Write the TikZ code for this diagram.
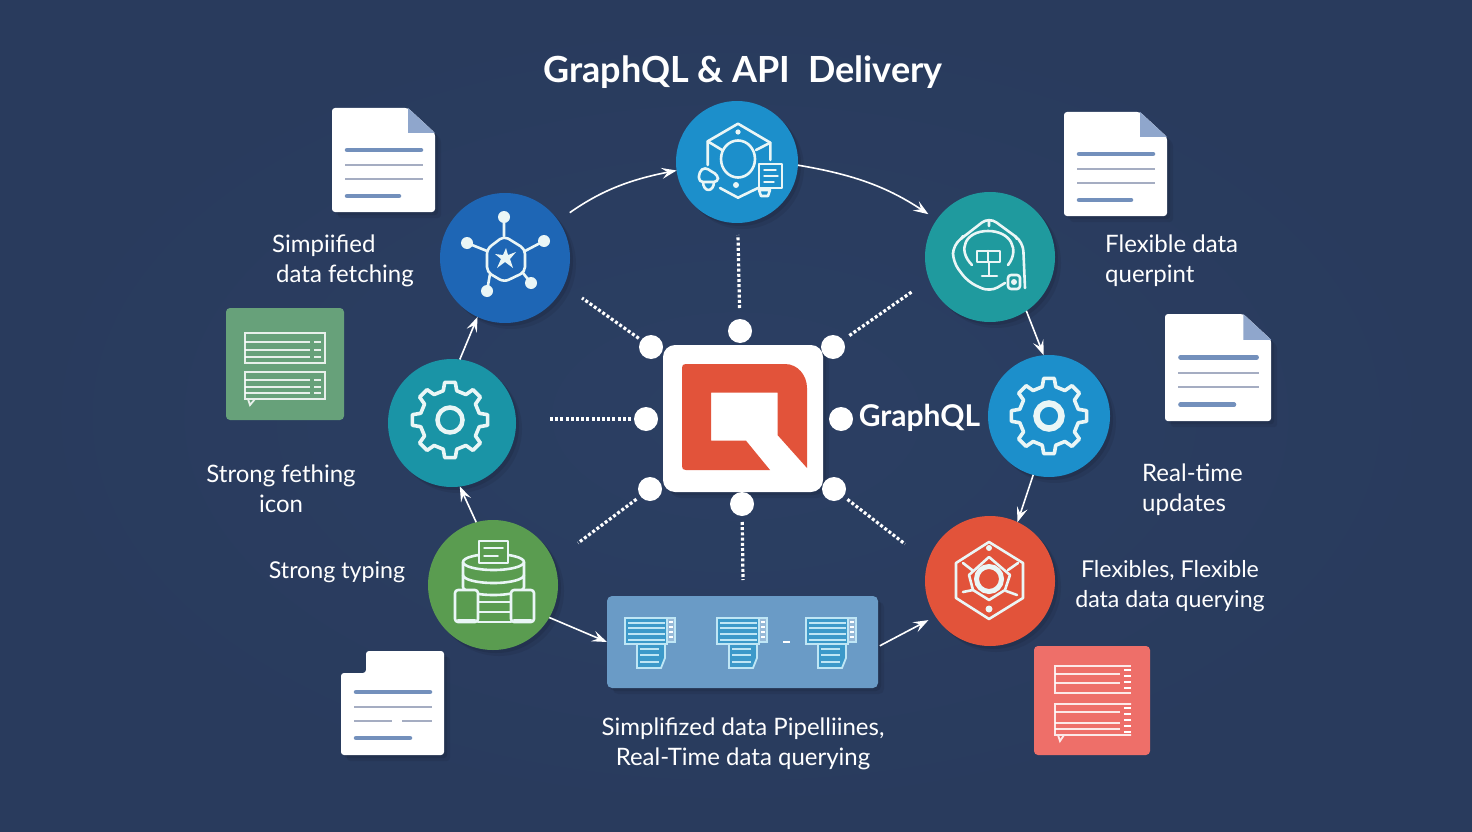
\documentclass[tikz,border=0pt]{standalone}
\usepackage{fontspec}
\setmainfont{Lato}
\usetikzlibrary{arrows.meta,shadows}

\definecolor{bgnavy}{HTML}{2B3F63}
\definecolor{bgnavydark}{HTML}{293B5D}
\definecolor{hubred}{HTML}{E2533A}
\definecolor{topblue}{HTML}{1C8FCB}
\definecolor{fetchblue}{HTML}{1E66B5}
\definecolor{queryteal}{HTML}{1F9A9E}
\definecolor{gearteal}{HTML}{1A94A6}
\definecolor{typegreen}{HTML}{5A9C50}
\definecolor{pipeblue}{HTML}{6A9BC6}
\definecolor{cardgreen}{HTML}{67A17A}
\definecolor{cardred}{HTML}{EE6F69}
\definecolor{foldblue}{HTML}{8FA6CC}
\definecolor{lineblue}{HTML}{7390BC}
\definecolor{linegrey}{HTML}{A5ADC2}
\definecolor{sheetblue}{HTML}{3C99C9}
\definecolor{sheetedge}{HTML}{BFE6F5}
\definecolor{iconwhite}{HTML}{EAF6F6}

\tikzset{
    softshadow/.style={
        drop shadow={shadow xshift=6pt, shadow yshift=-6pt, opacity=.07, fill=black},
        drop shadow={shadow xshift=3pt, shadow yshift=-3pt, opacity=.09, fill=black}},
    roundnode/.style={circle, inner sep=0pt, outer sep=0pt, minimum size=#1, softshadow},
    dotnode/.style={circle, fill=white, inner sep=0pt, outer sep=0pt, minimum size=24pt},
    textnode/.style={text=white, inner sep=0pt, align=left, font=\fontsize{24}{30}\selectfont},
    dotline/.style={white, line width=3.2pt, dash pattern=on 3pt off 2.2pt},
    flowarrow/.style={white, line width=1.6pt, -{Stealth[length=15pt, width=11pt, inset=6pt]}},
    iconline/.style={iconwhite, line width=2.6pt, line join=round, line cap=round},
    gearline/.style={iconwhite, line width=3.6pt, line join=round},
    cardline/.style={white, opacity=.85, line width=1.8pt},
    sheetline/.style={sheetedge, line width=1.8pt},
    blueline/.style={lineblue, line width=4.5pt, line cap=round},
    greyline/.style={linegrey, line width=2pt},
    pics/gearicon/.style n args={4}{code={
        \draw[gearline] (-13:#2) \foreach \a in {0,45,...,315} { -- (\a-13:#2) -- (\a-8:#1) -- (\a+8:#1) -- (\a+13:#2) } -- cycle;
        \draw[iconwhite, line width=#4] (0,0) circle (#3);
    }},
    pics/foldsheet/.style={code={
        \fill[white, rounded corners=3pt, softshadow] (0,0) -- (76,0) -- (103,25) -- (103,104) -- (0,104) -- cycle;
        \fill[foldblue] (76,0) -- (103,25) -- (76,25) -- cycle;
        \draw[blueline] (15,42) -- (89,42);
        \draw[greyline] (13,57) -- (91,57);
        \draw[greyline] (13,71) -- (91,71);
        \draw[blueline] (15,88) -- (67,88);
    }},
    pics/pipesheet/.style={code={
        \draw[sheetline, fill=sheetblue] (0,0) rectangle (42,26);
        \draw[sheetline, fill=pipeblue!70!white] (42,0) rectangle (50,24);
        \draw[sheetline, fill=sheetblue] (12,26) -- (40,26) -- (40,40) -- (36,50) -- (12,50) -- cycle;
        \foreach \y in {5,10,16,22} \draw[sheetline] (3,\y) -- (40,\y);
        \foreach \y in {31,37,44} \draw[sheetline] (15,\y) -- (34,\y);
        \foreach \y in {4,9,14,19} \draw[white, line width=1.4pt] (44,\y) -- (48,\y);
    }},
}

\begin{document}
\begin{tikzpicture}[x=1pt, y=-1pt]
    \useasboundingbox (0,0) rectangle (1472,832);
    \shade[inner color=bgnavy, outer color=bgnavydark] (0,0) rectangle (1472,832);

    \node[text=white, inner sep=0pt, font=\fontsize{36}{40}\bfseries\selectfont] (title) at (743,72) {GraphQL \& API\hspace{18pt}Delivery};

    % hub
    \node[fill=white, rounded corners=12pt, minimum width=160pt, minimum height=147pt, inner sep=0pt, softshadow] (hub) at (743,418.5) {};
    \fill[hubred] (686,364) -- (785,364) to[out=0, in=90] (807,388) -- (807,468) -- (777.5,435) -- (777.5,392.7) -- (711,392.7) -- (711,440.7) -- (746,440.7) -- (770,470) -- (686,470) .. controls (683,470) and (682,469) .. (682,466) -- (682,368) .. controls (682,365) and (683,364) .. (686,364) -- cycle;

    \node[dotnode] (dotTop) at (740,331) {};
    \node[dotnode] (dotTopLeft) at (651,347) {};
    \node[dotnode] (dotTopRight) at (833,347) {};
    \node[dotnode] (dotLeft) at (646,419) {};
    \node[dotnode] (dotRight) at (841,419) {};
    \node[dotnode] (dotBottomLeft) at (650,489) {};
    \node[dotnode] (dotBottomRight) at (834,489) {};
    \node[dotnode] (dotBottom) at (742,504) {};

    \coordinate (endTop) at (738,235);
    \coordinate (endTopLeft) at (582,298);
    \coordinate (endTopRight) at (913,291);
    \coordinate (endLeft) at (549,419);
    \coordinate (endBottomLeft) at (578,543);
    \coordinate (endBottomRight) at (905,544);
    \coordinate (endBottom) at (743,580);
    \foreach \dotname/\endname/\gap in {dotTop/endTop/11, dotTopLeft/endTopLeft/3, dotTopRight/endTopRight/8, dotLeft/endLeft/3, dotBottomLeft/endBottomLeft/5, dotBottomRight/endBottomRight/5, dotBottom/endBottom/6}
        \draw[dotline, shorten <=\gap pt] (\dotname) -- (\endname);

    % service circles
    \node[roundnode=122pt, fill=topblue] (nTop) at (737,162) {};
    \node[roundnode=130pt, fill=fetchblue] (nFetch) at (505,258) {};
    \node[roundnode=130pt, fill=queryteal] (nQuery) at (990,257) {};
    \node[roundnode=128pt, fill=gearteal] (nGear) at (452,423) {};
    \node[roundnode=122pt, fill=topblue] (nUpdate) at (1049,416) {};
    \node[roundnode=130pt, fill=typegreen] (nType) at (493,585) {};
    \node[roundnode=130pt, fill=hubred] (nFlex) at (990,581) {};
    \node[rectangle, fill=pipeblue, rounded corners=5pt, minimum width=271pt, minimum height=92pt, inner sep=0pt, outer sep=0pt, softshadow] (pipe) at (742.5,642) {};

    \draw[flowarrow, shorten <=14pt] (nFetch.35) to[bend left=12] (nTop.188);
    \draw[flowarrow, shorten >=10pt] (nTop.-3) to[bend left=12] (nQuery.145);
    \draw[flowarrow] (nQuery.-56) -- (nUpdate.95);
    \draw[flowarrow] (nUpdate.-105) -- (nFlex.65);
    \draw[flowarrow, shorten <=2pt, shorten >=8pt] (pipe.-2.5) -- (nFlex.213);
    \draw[flowarrow] (nType.-30) -- (pipe.west);
    \draw[flowarrow] (nType.105) -- (nGear.-83);
    \draw[flowarrow] (nGear.83) -- (nFetch.-115);

    % icon in the top circle
    \draw[iconline] (720,188) -- (738,197.7) -- (758,188);
    \draw[iconline] (707.7,165) -- (707.7,141.3) -- (738,123.7) -- (770.3,142.7) -- (770.3,160);
    \draw[iconline] (707.7,141.3) -- (722,150) (770.3,142.7) -- (756,150);
    \draw[iconline] (738,159) ellipse (17 and 18.5);
    \draw[iconline] (759,164) rectangle (782,188);
    \draw[iconline, line width=1.4pt] (764,170) -- (776,170) (764,176) -- (778,176) (764,182) -- (774,182);
    \draw[iconline] (759,190) -- (770,190) -- (768,196) -- (761,196) -- cycle;
    \draw[iconline, rounded corners=4pt] (699,172) -- (705,167) -- (712,172) -- (718,175) -- (718,182) -- (699,182) -- cycle;
    \draw[iconline] (703,182) arc[start angle=180, end angle=0, x radius=5.5, y radius=8];
    \fill[iconwhite] (738,132) circle (2.6) (736,185) circle (3);

    % icon in the fetching circle
    \draw[iconline, rounded corners=5pt] (504,236) -- (525,249) -- (525,272) -- (504,282) -- (487,272) -- (487,249) -- cycle;
    \draw[iconline] (504,217) -- (504,236) (467,243) -- (487,251) (544,241) -- (525,251) (487,291) -- (490,274) (531,283) -- (523,273);
    \foreach \ox/\oy in {504/217, 467/243, 544/241, 487/291, 531/283}
        \fill[iconwhite] (\ox,\oy) circle (6);
    \fill[iconwhite] (506,248) -- (508,255) -- (516,252) -- (510,259) -- (513,268) -- (505,262) -- (497,268) -- (501,259) -- (495,254) -- (503,255) -- cycle;

    % icon in the query circle
    \draw[iconline, rounded corners=9pt] (1025,288) -- (1023,242) -- (989,217) -- (953,245) -- (953,262) -- (968,282) -- (990,292) -- (1005,283);
    \draw[iconline] (972,265) .. controls (957,250) and (965,231) .. (988,231) .. controls (1011,231) and (1020,250) .. (1008,265);
    \draw[iconline] (977,251) rectangle (1000,262) (988,251) -- (988,262) (989,262) -- (989,275) (982,276) -- (997,276);
    \draw[iconline] (989,221) -- (989,226) (963,236) -- (961,239) (1015,236) -- (1017,239);
    \draw[iconline, rounded corners=3pt] (1008,275) rectangle (1020,289);
    \fill[iconwhite] (1014,282) circle (3);

    % gears
    \pic at (450,420) {gearicon={38}{30}{12.5}{4.5pt}};
    \pic at (1049,416) {gearicon={38}{30}{12.5}{6.5pt}};

    % icon in the typing circle
    \draw[iconline] (463,562) -- (463,587) arc[start angle=180, end angle=0, x radius=30.5, y radius=8] -- (524,562);
    \draw[iconline] (493.5,562) ellipse (30.5 and 8);
    \draw[iconline] (463,575) arc[start angle=180, end angle=0, x radius=30.5, y radius=8];
    \draw[iconline, fill=typegreen] (479,541) rectangle (508,563);
    \draw[iconline, line width=1.5pt] (484,548) -- (503,548) (484,556) -- (498,556);
    \draw[iconline] (478,602) -- (511,602) (478,612) -- (511,612) (478,622) -- (511,622);
    \draw[iconline, fill=typegreen, rounded corners=3pt] (455,590) rectangle (478,622) (511,590) rectangle (534,622);
    \draw[iconline] (458,620) -- (475,620) (514,620) -- (531,620);

    % icon in the flexible circle
    \draw[iconline] (989,542) -- (1023,563) -- (1023,598) -- (989,619) -- (956,598) -- (956,563) -- cycle;
    \draw[iconline] (989,557) -- (1010,575) -- (1005,590) -- (989,600) -- (973,590) -- (969,575) -- cycle;
    \draw[iconwhite, line width=5pt] (989,579) circle (12.5);
    \draw[iconline] (963,563) -- (972,570) (1018,563) -- (1008,570) (963,592) -- (973,590) (1017,595) -- (1006,591);
    \fill[iconwhite] (989,548) circle (3) (989,609) circle (3.5);

    % sheets in the pipeline box
    \foreach \dx in {625,717,806}
        \pic at (\dx,618) {pipesheet};
    \fill[white] (783,641) rectangle (790,643);

    % white documents
    \pic at (332,108) {foldsheet};
    \pic at (1064,112) {foldsheet};
    \pic[scale=1.03] at (1165,314) {foldsheet};
    \fill[white, rounded corners=3pt, softshadow] (366,651) -- (444,651) -- (444,755) -- (341,755) -- (341,673) -- (366,673) -- cycle;
    \draw[blueline] (356,692) -- (430,692);
    \draw[greyline] (354,707) -- (432,707);
    \draw[greyline] (354,721) -- (392,721) (402,721) -- (432,721);
    \draw[blueline] (356,738) -- (410,738);

    % green card
    \fill[cardgreen, rounded corners=4pt] (226,308) rectangle (344,420);
    \draw[cardline] (245,333) rectangle (325,363);
    \draw[cardline] (245,372) rectangle (325,399) (248,399) -- (250,405) -- (255,399);
    \foreach \y in {342,350,357,380,387,393} \draw[cardline] (245,\y) -- (310,\y);
    \foreach \y in {342,350,357,380,387,393} \draw[cardline] (314,\y) -- (321,\y);

    % red card
    \fill[cardred, rounded corners=4pt] (1034,646) rectangle (1150,755);
    \draw[cardline] (1131,666) -- (1055,666) -- (1055,693) -- (1131,693);
    \draw[cardline] (1131,704) -- (1055,704) -- (1055,735) -- (1131,735) (1058,735) -- (1060,741) -- (1064,735);
    \foreach \y in {674,683,712,723,729} \draw[cardline] (1055,\y) -- (1120,\y);
    \foreach \y in {670,676,682,688,708,714,720,726,732} \draw[white, line width=2.4pt] (1124,\y) -- (1131,\y);

    % labels
    \node[textnode, anchor=west] (lblFetch) at (272,260.5) {Simpiified\\\hspace{4pt}data fetching};
    \node[textnode, anchor=west] (lblQuery) at (1105,260.5) {Flexible data\\querpint};
    \node[textnode, anchor=center, align=center] (lblStrong) at (281,488.5) {Strong fething\\icon};
    \node[textnode, anchor=center, font=\fontsize{23.2}{30}\selectfont] (lblType) at (337,572) {Strong typing};
    \node[textnode, anchor=west] (lblUpdate) at (1142,489.5) {Real-time\\updates};
    \node[textnode, anchor=center, align=center, font=\fontsize{23.2}{30}\selectfont] (lblFlex) at (1170,586) {Flexibles, Flexible\\data data querying};
    \node[textnode, anchor=center, align=center] (lblPipe) at (743,744) {Simplifized data Pipelliines,\\Real-Time data querying};
    \node[text=white, inner sep=0pt, font=\fontsize{30}{32}\bfseries\selectfont] (lblGraph) at (919.5,418) {GraphQL};
\end{tikzpicture}
\end{document}
